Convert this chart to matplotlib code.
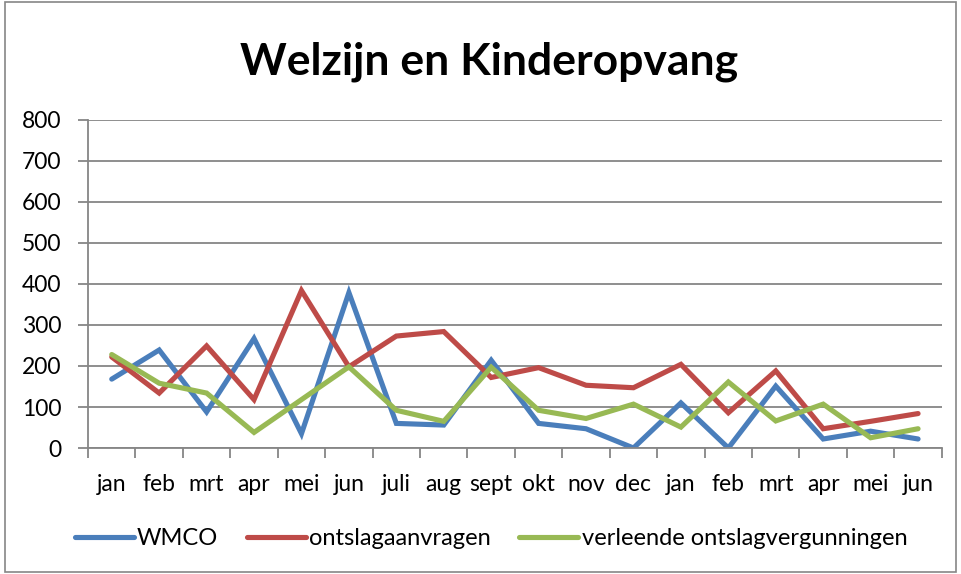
import numpy as np
from matplotlib import pyplot as plt
from matplotlib.patches import Rectangle

months = ['jan', 'feb', 'mrt', 'apr', 'mei', 'jun', 'juli', 'aug', 'sept',
          'okt', 'nov', 'dec', 'jan', 'feb', 'mrt', 'apr', 'mei', 'jun']
wmco = [168, 239, 88, 267, 35, 379, 60, 56, 214, 60, 47, 0, 110, 0, 151, 22, 41, 22]
ontslagaanvragen = [222, 134, 249, 118, 384, 198, 273, 284, 172, 196, 153, 147,
                    204, 86, 188, 47, 65, 84]
verleende = [228, 158, 134, 38, 118, 198, 92, 65, 197, 92, 72, 107, 51, 161, 66,
             107, 25, 47]

series = [
    ('WMCO', wmco, '#4A7EBB'),
    ('ontslagaanvragen', ontslagaanvragen, '#BE4B48'),
    ('verleende ontslagvergunningen', verleende, '#98B954'),
]

plt.rcParams['font.family'] = ['Lato', 'DejaVu Sans']

fig = plt.figure(figsize=(9.61, 5.74), dpi=100)
ax = fig.add_axes([0.0916, 0.2195, 0.8884, 0.5715])

x = np.arange(len(months))
for name, vals, col in series:
    ax.plot(x, vals, color=col, lw=3.7, label=name, solid_capstyle='round',
            solid_joinstyle='miter')

grid_col = '#868686'
ax.set_ylim(0, 800)
ax.set_yticks(np.arange(0, 801, 100))
ax.set_xlim(-0.5, len(months) - 0.5)
ax.set_xticks(x)
ax.set_xticklabels(months)
ax.set_xticks(np.arange(-0.5, len(months)), minor=True)
ax.tick_params(axis='x', which='major', length=0, pad=19, labelsize=16.5)
ax.tick_params(axis='x', which='minor', length=7, width=1.3, color=grid_col)
ax.tick_params(axis='y', length=7, width=1.3, color=grid_col, labelsize=16.5, pad=12)
ax.yaxis.grid(True, color=grid_col, lw=1.3)
ax.set_axisbelow(True)
for s in ['top', 'right']:
    ax.spines[s].set_visible(False)
for s in ['left', 'bottom']:
    ax.spines[s].set_color(grid_col)
    ax.spines[s].set_linewidth(1.3)

fig.text(0.509, 0.892, 'Welzijn en Kinderopvang', ha='center', va='center',
         fontsize=32, fontweight='bold')

ax.legend(loc='center', bbox_to_anchor=(0.511, 0.062), bbox_transform=fig.transFigure,
          ncol=3, frameon=False, fontsize=17, handlelength=2.5, handletextpad=0.15,
          columnspacing=1.2)

fig.add_artist(Rectangle((0.005, 0.004), 0.99, 0.992, transform=fig.transFigure,
                         fill=False, edgecolor='#868686', lw=1.2))

fig.savefig('out.png', dpi=100)
